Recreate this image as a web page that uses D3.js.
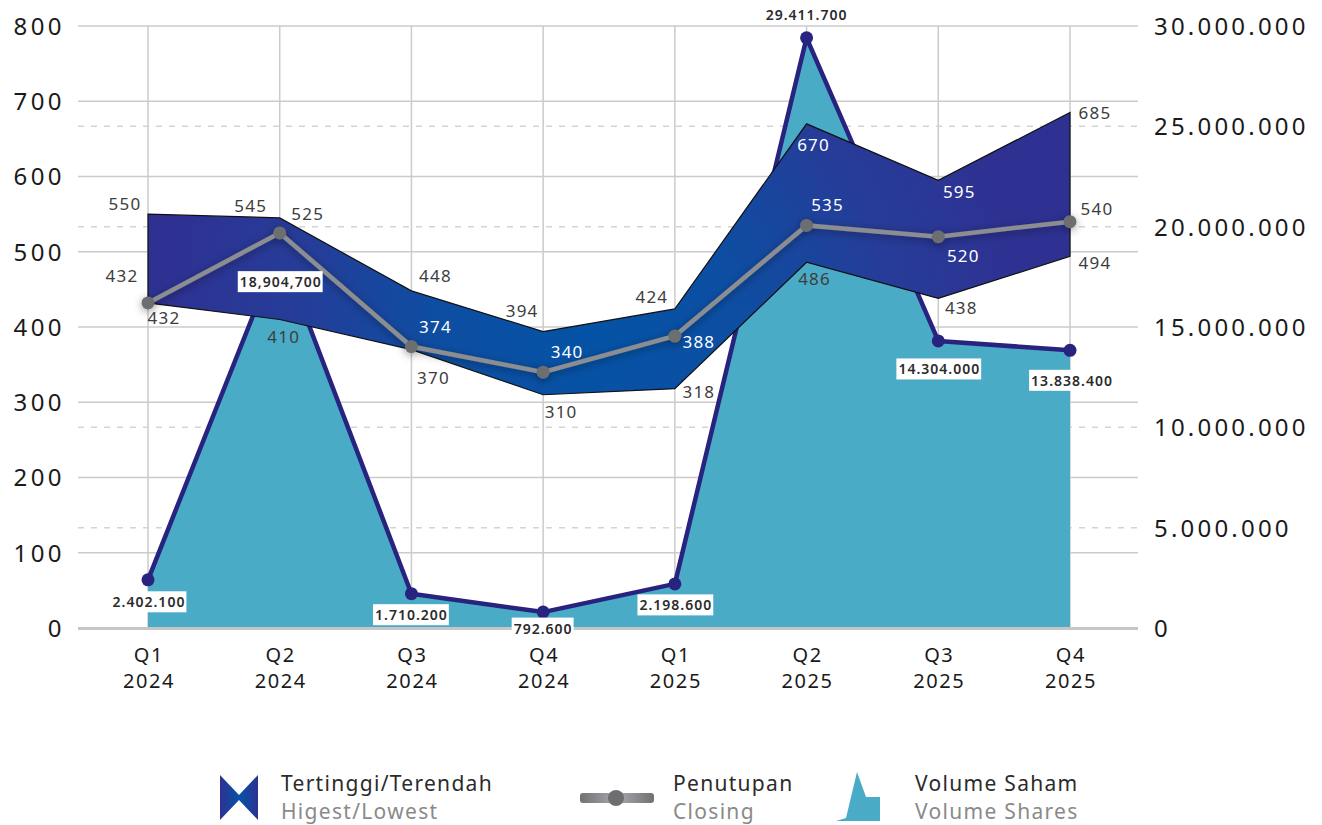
<!DOCTYPE html>
<html>
<head>
<meta charset="utf-8">
<script src="https://cdn.jsdelivr.net/npm/d3@7"></script>
<style>
  html, body { margin: 0; padding: 0; background: #ffffff; }
  svg text { font-family: "Noto Sans", sans-serif; }
</style>
</head>
<body>
<svg id="chart" width="1322" height="825"></svg>
<script>
// ---- data ----
const quarters = ["Q1", "Q2", "Q3", "Q4", "Q1", "Q2", "Q3", "Q4"];
const years = ["2024", "2024", "2024", "2024", "2025", "2025", "2025", "2025"];
const highPrice = [550, 545, 448, 394, 424, 670, 595, 685];
const lowPrice = [432, 410, 370, 310, 318, 486, 438, 494];
const closePrice = [432, 525, 374, 340, 388, 535, 520, 540];
const volume = [2402100, 18904700, 1710200, 792600, 2198600, 29411700, 14304000, 13838400];
const volumeLabels = ["2.402.100", "18,904,700", "1.710.200", "792.600", "2.198.600", "29.411.700", "14.304.000", "13.838.400"];
const priceTicks = [0, 100, 200, 300, 400, 500, 600, 700, 800];
const volumeTicks = [0, 5000000, 10000000, 15000000, 20000000, 25000000, 30000000];
const volumeTickLabels = ["0", "5.000.000", "10.000.000", "15.000.000", "20.000.000", "25.000.000", "30.000.000"];

// ---- label placement (offsets from each point) ----
const highOff = [[-23,-11],[-29,-12],[24,-15],[-21,-21],[-23,-12],[7,21],[21,11],[25,0]];
const lowOff = [[16,15],[4,17],[22,28],[18,17],[24,3],[8,16],[23,9],[25,6]];
const closeOff = [[-26,-27],[28,-19],[24,-20],[24,-21],[24,5],[21,-21],[25,19],[27,-13]];
const highWhite = [false,false,false,false,false,true,true,false];
const lowWhite = [false,false,false,false,false,false,false,false];
const closeWhite = [false,false,true,true,true,true,true,false];
const volOff = [[1,22],[1,33],[0,21],[0,16],[1,21],[0,-23],[1,28],[2,30]];
const volBg = [true,true,true,true,true,false,true,true];

const svg = d3.select("#chart");
const plotLeft = 78, plotRight = 1138, plotTop = 26, plotBottom = 628;

const idx = d3.range(quarters.length);
const x = d3.scalePoint().domain(idx).range([148, 1070]);
const yL = d3.scaleLinear().domain([0, 800]).range([plotBottom, plotTop]);
const yR = d3.scaleLinear().domain([0, 30000000]).range([plotBottom, plotTop]);

const defs = svg.append("defs");
const grad = defs.append("radialGradient")
  .attr("id", "bandGrad").attr("gradientUnits", "userSpaceOnUse")
  .attr("cx", 590).attr("cy", 330).attr("r", 430);
grad.append("stop").attr("offset", 0).attr("stop-color", "#0453a6");
grad.append("stop").attr("offset", 0.35).attr("stop-color", "#0d4ea2");
grad.append("stop").attr("offset", 0.7).attr("stop-color", "#263c98");
grad.append("stop").attr("offset", 1).attr("stop-color", "#2e3192");

const legGrad = defs.append("linearGradient").attr("id", "legBand")
  .attr("x1", 0).attr("x2", 1).attr("y1", 0).attr("y2", 0);
legGrad.append("stop").attr("offset", 0).attr("stop-color", "#2e3192");
legGrad.append("stop").attr("offset", 0.5).attr("stop-color", "#0453a6");
legGrad.append("stop").attr("offset", 1).attr("stop-color", "#2e3192");

const legLine = defs.append("linearGradient").attr("id", "legLine")
  .attr("gradientUnits", "userSpaceOnUse")
  .attr("x1", 578).attr("x2", 656).attr("y1", 0).attr("y2", 0);
legLine.append("stop").attr("offset", 0).attr("stop-color", "#6d6e70");
legLine.append("stop").attr("offset", 0.5).attr("stop-color", "#a7a9ac");
legLine.append("stop").attr("offset", 1).attr("stop-color", "#6d6e70");

const shadow = defs.append("filter").attr("id", "soft")
  .attr("x", "-20%").attr("y", "-20%").attr("width", "140%").attr("height", "140%");
shadow.append("feDropShadow").attr("dx", 0).attr("dy", 2)
  .attr("stdDeviation", 4).attr("flood-color", "#000").attr("flood-opacity", 0.4);

// ---- grid ----
const grid = svg.append("g");
grid.selectAll(".vg").data(idx).join("line")
  .attr("x1", d => x(d)).attr("x2", d => x(d))
  .attr("y1", plotTop).attr("y2", plotBottom)
  .attr("stroke", "#cbcbcb").attr("stroke-width", 1.5);
grid.selectAll(".hg").data(priceTicks.filter(d => d > 0)).join("line")
  .attr("x1", plotLeft).attr("x2", plotRight)
  .attr("y1", d => yL(d)).attr("y2", d => yL(d))
  .attr("stroke", "#cbcbcb").attr("stroke-width", 1.5);
grid.selectAll(".dg").data(volumeTicks.filter(d => d > 0 && d % 15000000 !== 0)).join("line")
  .attr("x1", plotLeft).attr("x2", plotRight)
  .attr("y1", d => yR(d)).attr("y2", d => yR(d))
  .attr("stroke", "#d4d4d4").attr("stroke-width", 1.5)
  .attr("stroke-dasharray", "6,7");

// ---- volume area + line ----
const area = d3.area().x(d => x(d)).y0(plotBottom).y1(d => yR(volume[d]));
svg.append("path").datum(idx).attr("d", area).attr("fill", "#4aabc7");

svg.append("line").attr("x1", plotLeft).attr("x2", plotRight)
  .attr("y1", plotBottom + 0.5).attr("y2", plotBottom + 0.5)
  .attr("stroke", "#c6c6c6").attr("stroke-width", 3);

const volLine = d3.line().x(d => x(d)).y(d => yR(volume[d]));
svg.append("path").datum(idx).attr("d", volLine)
  .attr("fill", "none").attr("stroke", "#27237f").attr("stroke-width", 4.5)
  .attr("stroke-linejoin", "round");
svg.selectAll(".vdot").data(idx).join("circle")
  .attr("cx", d => x(d)).attr("cy", d => yR(volume[d])).attr("r", 6.5)
  .attr("fill", "#27237f");

// ---- high / low band ----
const band = d3.area().x(d => x(d)).y0(d => yL(lowPrice[d])).y1(d => yL(highPrice[d]));
svg.append("path").datum(idx).attr("d", band)
  .attr("fill", "url(#bandGrad)").attr("stroke", "#111").attr("stroke-width", 1.2);

// ---- closing line ----
const closeG = svg.append("g").attr("filter", "url(#soft)");
const closeLine = d3.line().x(d => x(d)).y(d => yL(closePrice[d]));
closeG.append("path").datum(idx).attr("d", closeLine)
  .attr("fill", "none").attr("stroke", "#8c8d90").attr("stroke-width", 4.5);
closeG.selectAll(".cdot").data(idx).join("circle")
  .attr("cx", d => x(d)).attr("cy", d => yL(closePrice[d])).attr("r", 6.5)
  .attr("fill", "#6d6e70");

// ---- value labels ----
function priceLabels(values, offs, white) {
  svg.append("g").selectAll("text").data(idx).join("text")
    .attr("x", d => x(d) + offs[d][0])
    .attr("y", d => yL(values[d]) + offs[d][1])
    .attr("text-anchor", "middle").attr("dominant-baseline", "central")
    .attr("font-size", 17).attr("letter-spacing", 1.2)
    .attr("fill", d => white[d] ? "#ffffff" : "#3d3d3d")
    .text(d => values[d]);
}
priceLabels(highPrice, highOff, highWhite);
priceLabels(lowPrice, lowOff, lowWhite);
priceLabels(closePrice, closeOff, closeWhite);

const vl = svg.append("g").selectAll("g").data(idx).join("g")
  .attr("transform", d => `translate(${x(d) + volOff[d][0]},${yR(volume[d]) + volOff[d][1]})`);
vl.append("text")
  .attr("text-anchor", "middle").attr("dominant-baseline", "central")
  .attr("font-size", 14).attr("font-weight", 600).attr("letter-spacing", 1.0)
  .attr("fill", "#2b2b2b")
  .text(d => volumeLabels[d]);
vl.each(function(d) {
  if (!volBg[d]) return;
  const g = d3.select(this);
  const bb = g.select("text").node().getBBox();
  g.insert("rect", "text")
    .attr("x", bb.x - 2).attr("y", bb.y - 1)
    .attr("width", bb.width + 3).attr("height", bb.height + 2)
    .attr("fill", "#ffffff");
});

// ---- axes ----
const leftAxis = d3.axisLeft(yL).tickValues(priceTicks).tickSize(0).tickPadding(0);
svg.append("g").attr("transform", "translate(65,0)").call(leftAxis)
  .call(g => g.select(".domain").remove())
  .selectAll("text")
  .attr("font-size", 24).attr("letter-spacing", 3.4).attr("fill", "#1a1a1a")
  .attr("font-family", "Noto Sans, sans-serif").attr("dy", "0.35em");

const rightAxis = d3.axisRight(yR).tickValues(volumeTicks)
  .tickFormat((d, i) => volumeTickLabels[i]).tickSize(0).tickPadding(0);
svg.append("g").attr("transform", "translate(1154,0)").call(rightAxis)
  .call(g => g.select(".domain").remove())
  .selectAll("text")
  .attr("font-size", 24).attr("letter-spacing", 3.2).attr("fill", "#1a1a1a")
  .attr("font-family", "Noto Sans, sans-serif").attr("dy", "0.35em");

const xl = svg.append("g").selectAll("text").data(idx).join("text")
  .attr("text-anchor", "middle").attr("font-size", 20).attr("letter-spacing", 1.6)
  .attr("fill", "#1a1a1a");
xl.append("tspan").attr("x", d => x(d) + 1).attr("y", 662).text(d => quarters[d]);
xl.append("tspan").attr("x", d => x(d) + 1).attr("y", 688).text(d => years[d]);

// ---- legend ----
const leg = svg.append("g");
leg.append("path")
  .attr("d", "M220,775 L239,795 L258,775 L258,820 L239,800 L220,820 Z")
  .attr("fill", "url(#legBand)");
const legText = (lx, ly, color, s) => leg.append("text").attr("x", lx).attr("y", ly)
  .attr("font-size", 21).attr("letter-spacing", 1.3).attr("fill", color).text(s);
legText(281, 791, "#2b2b2b", "Tertinggi/Terendah");
legText(281, 819, "#8a8a8a", "Higest/Lowest");

leg.append("rect").attr("x", 580).attr("y", 793).attr("width", 74).attr("height", 10)
  .attr("rx", 3).attr("fill", "url(#legLine)");
leg.append("circle").attr("cx", 616).attr("cy", 798).attr("r", 8).attr("fill", "#6d6e70");
legText(673, 791, "#2b2b2b", "Penutupan");
legText(673, 819, "#8a8a8a", "Closing");

leg.append("path")
  .attr("d", "M836,821 L846,818 L857,772 L866,797 L880,797 L880,821 Z")
  .attr("fill", "#4aabc7");
legText(915, 791, "#2b2b2b", "Volume Saham");
legText(915, 819, "#8a8a8a", "Volume Shares");
</script>
</body>
</html>
